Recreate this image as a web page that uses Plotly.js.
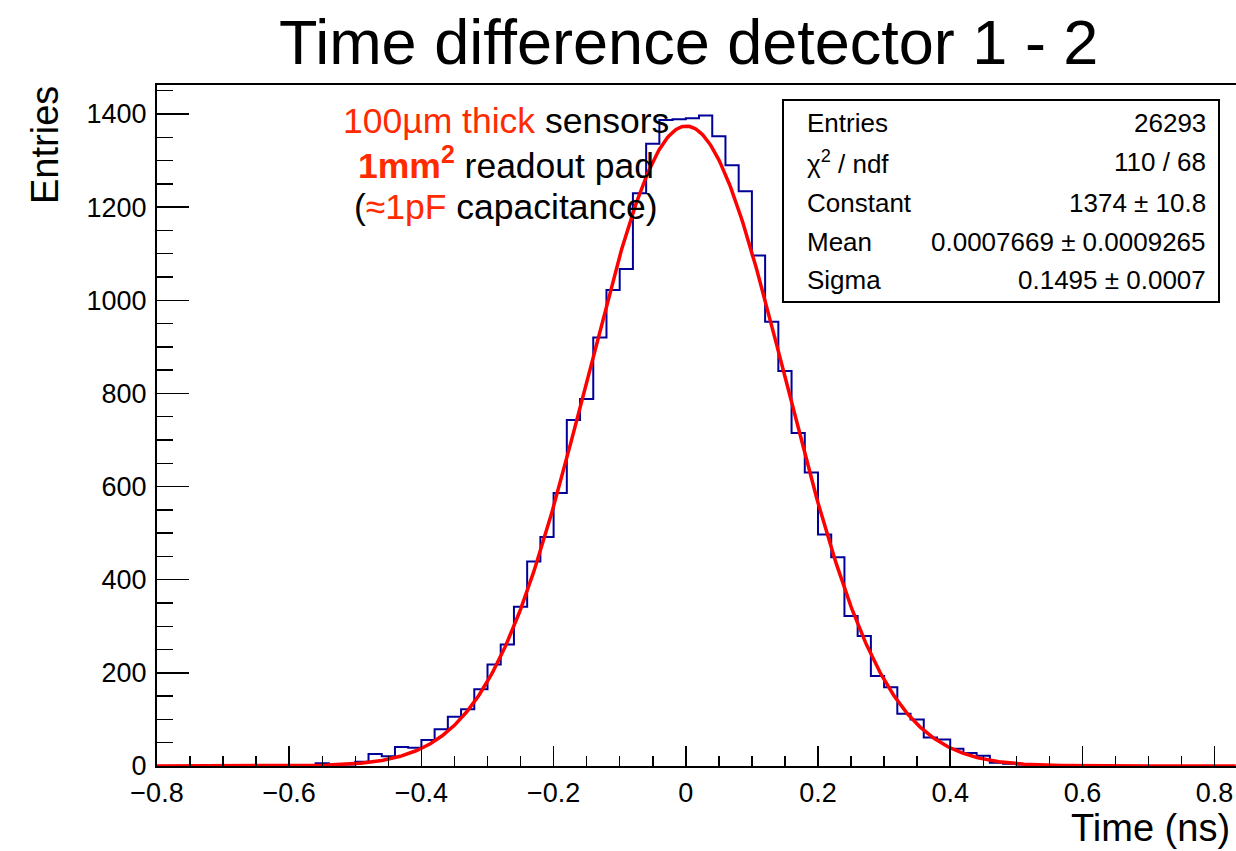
<!DOCTYPE html>
<html>
<head>
<meta charset="utf-8">
<script src="https://cdn.plot.ly/plotly-3.0.1.min.js"></script>
<style>
html,body{margin:0;padding:0;background:#ffffff;}
#chart{width:1236px;height:851px;}
</style>
</head>
<body>
<div id="chart"></div>
<script>
// ---- data ----
const binLow = -0.8;
const binWidth = 0.02;
const binCounts = [
  0, 0, 0, 0, 0, 0, 0, 0, 0, 0,
  1, 1, 6, 2, 3, 9, 26, 21, 41, 39,
  56, 79, 106, 122, 165, 218, 261, 342, 439, 492,
  586, 743, 788, 920, 1022, 1067, 1230, 1336, 1387, 1389,
  1391, 1397, 1352, 1290, 1234, 1096, 954, 848, 715, 630,
  497, 448, 322, 279, 193, 169, 112, 100, 61, 57,
  37, 28, 22, 7, 5, 3, 2, 0, 0, 0,
  0, 0, 0, 0, 0, 0, 0, 0, 0, 0
];
const fitConstant = 1374;
const fitMean = 0.0007669;
const fitSigma = 0.1495;
const statsLabels = ['Entries', '\u03c7<sup>2</sup> / ndf', 'Constant', 'Mean', 'Sigma'];
const statsValues = ['26293', '110 / 68', '1374 \u00b1 10.8', '0.0007669 \u00b1 0.0009265', '0.1495 \u00b1 0.0007'];
const xTickVals = [-0.8, -0.6, -0.4, -0.2, 0, 0.2, 0.4, 0.6, 0.8];
const xTickText = ['\u22120.8', '\u22120.6', '\u22120.4', '\u22120.2', '0', '0.2', '0.4', '0.6', '0.8'];
const yTickVals = [0, 200, 400, 600, 800, 1000, 1200, 1400];
const yTickText = ['0', '200', '400', '600', '800', '1000', '1200', '1400'];
const titleText = 'Time difference detector 1 - 2';
const xTitle = 'Time (ns)';
const yTitle = 'Entries';
const noteLines = [
  '<span style="color:#ff2a00">100\u00b5m thick</span> sensors',
  '<span style="color:#ff2a00"><b>1mm<sup>2</sup></b></span> readout pad',
  '(<span style="color:#ff2a00">\u22481pF</span> capacitance)'
];

// ---- geometry (pixels) ----
const PL = 157, PR = 1236, PT = 85, PB = 766;
const px = x => (x - PL) / (PR - PL);
const py = y => (PB - y) / (PB - PT);
const XMAX = -0.8 + (PR - PL) / 661;
const YMAX = (PB - PT) / 0.4657;
const FONT = 'Liberation Sans, Arial, Helvetica, sans-serif';

// histogram as steps
const hx = [], hy = [];
for (let i = 0; i <= binCounts.length; i++) {
  hx.push(binLow + i * binWidth);
  hy.push(binCounts[Math.min(i, binCounts.length - 1)]);
}
// fit curve from the fitted parameters shown in the stats box
const fx = [], fy = [];
for (let x = -0.8; x <= XMAX + 1e-9; x += 0.002) {
  fx.push(x);
  fy.push(fitConstant * Math.exp(-0.5 * Math.pow((x - fitMean) / fitSigma, 2)));
}

const traces = [
  {x: hx, y: hy, type: 'scatter', mode: 'lines', line: {shape: 'hv', color: '#000099', width: 2}, hoverinfo: 'skip', showlegend: false},
  {x: fx, y: fy, type: 'scatter', mode: 'lines', line: {color: '#ff0000', width: 3.5}, hoverinfo: 'skip', showlegend: false}
];

const ann = [];
ann.push({text: titleText, xref: 'paper', yref: 'paper', x: px(688), y: py(42), xanchor: 'center', yanchor: 'middle', showarrow: false, font: {family: FONT, size: 63, color: '#000'}});
ann.push({text: yTitle, xref: 'paper', yref: 'paper', x: px(45), y: py(145), xanchor: 'center', yanchor: 'middle', textangle: -90, showarrow: false, font: {family: FONT, size: 38, color: '#000'}});
ann.push({text: xTitle, xref: 'paper', yref: 'paper', x: px(1232), y: py(828), xanchor: 'right', yanchor: 'middle', showarrow: false, font: {family: FONT, size: 38, color: '#000'}});
const noteY = [121, 163, 207];
noteLines.forEach((t, i) => ann.push({text: t, xref: 'paper', yref: 'paper', x: px(506), y: py(noteY[i]), xanchor: 'center', yanchor: 'middle', showarrow: false, font: {family: FONT, size: 35.5, color: '#000'}}));
const rowY = [123, 162, 203, 242, 280];
statsLabels.forEach((t, i) => {
  ann.push({text: t, xref: 'paper', yref: 'paper', x: px(805), y: py(rowY[i]), xanchor: 'left', yanchor: 'middle', showarrow: false, font: {family: FONT, size: 26, color: '#000'}});
  ann.push({text: statsValues[i], xref: 'paper', yref: 'paper', x: px(1208), y: py(rowY[i]), xanchor: 'right', yanchor: 'middle', showarrow: false, font: {family: FONT, size: 26, color: '#000'}});
});

const layout = {
  width: 1236, height: 851,
  margin: {l: PL, r: 1236 - PR, t: PT, b: 851 - PB, pad: 0},
  paper_bgcolor: '#ffffff', plot_bgcolor: '#ffffff',
  showlegend: false,
  xaxis: {
    range: [-0.8, XMAX], tickmode: 'array', tickvals: xTickVals, ticktext: xTickText,
    ticks: 'inside', ticklen: 20, tickwidth: 1.5, tickcolor: '#000',
    showline: true, linecolor: '#000', linewidth: 2, mirror: true,
    showgrid: false, zeroline: false, ticklabelstandoff: 2,
    minor: {tickmode: 'linear', tick0: 0, dtick: 0.05, ticks: 'inside', ticklen: 10, tickwidth: 1.5, tickcolor: '#000', showgrid: false},
    tickfont: {family: FONT, size: 27, color: '#000'}
  },
  yaxis: {
    range: [0, YMAX], tickmode: 'array', tickvals: yTickVals, ticktext: yTickText,
    ticks: 'inside', ticklen: 32, tickwidth: 1.5, tickcolor: '#000',
    showline: true, linecolor: '#000', linewidth: 2, mirror: true,
    showgrid: false, zeroline: false, ticklabelstandoff: 3,
    minor: {tickmode: 'linear', tick0: 0, dtick: 50, ticks: 'inside', ticklen: 16, tickwidth: 1.5, tickcolor: '#000', showgrid: false},
    tickfont: {family: FONT, size: 27, color: '#000'}
  },
  shapes: [
    {type: 'rect', xref: 'paper', yref: 'paper', x0: px(783), x1: px(1219), y0: py(302), y1: py(100), line: {color: '#000', width: 2}, fillcolor: '#ffffff', layer: 'above'}
  ],
  annotations: ann
};

Plotly.newPlot('chart', traces, layout, {displayModeBar: false, staticPlot: true});
</script>
</body>
</html>
